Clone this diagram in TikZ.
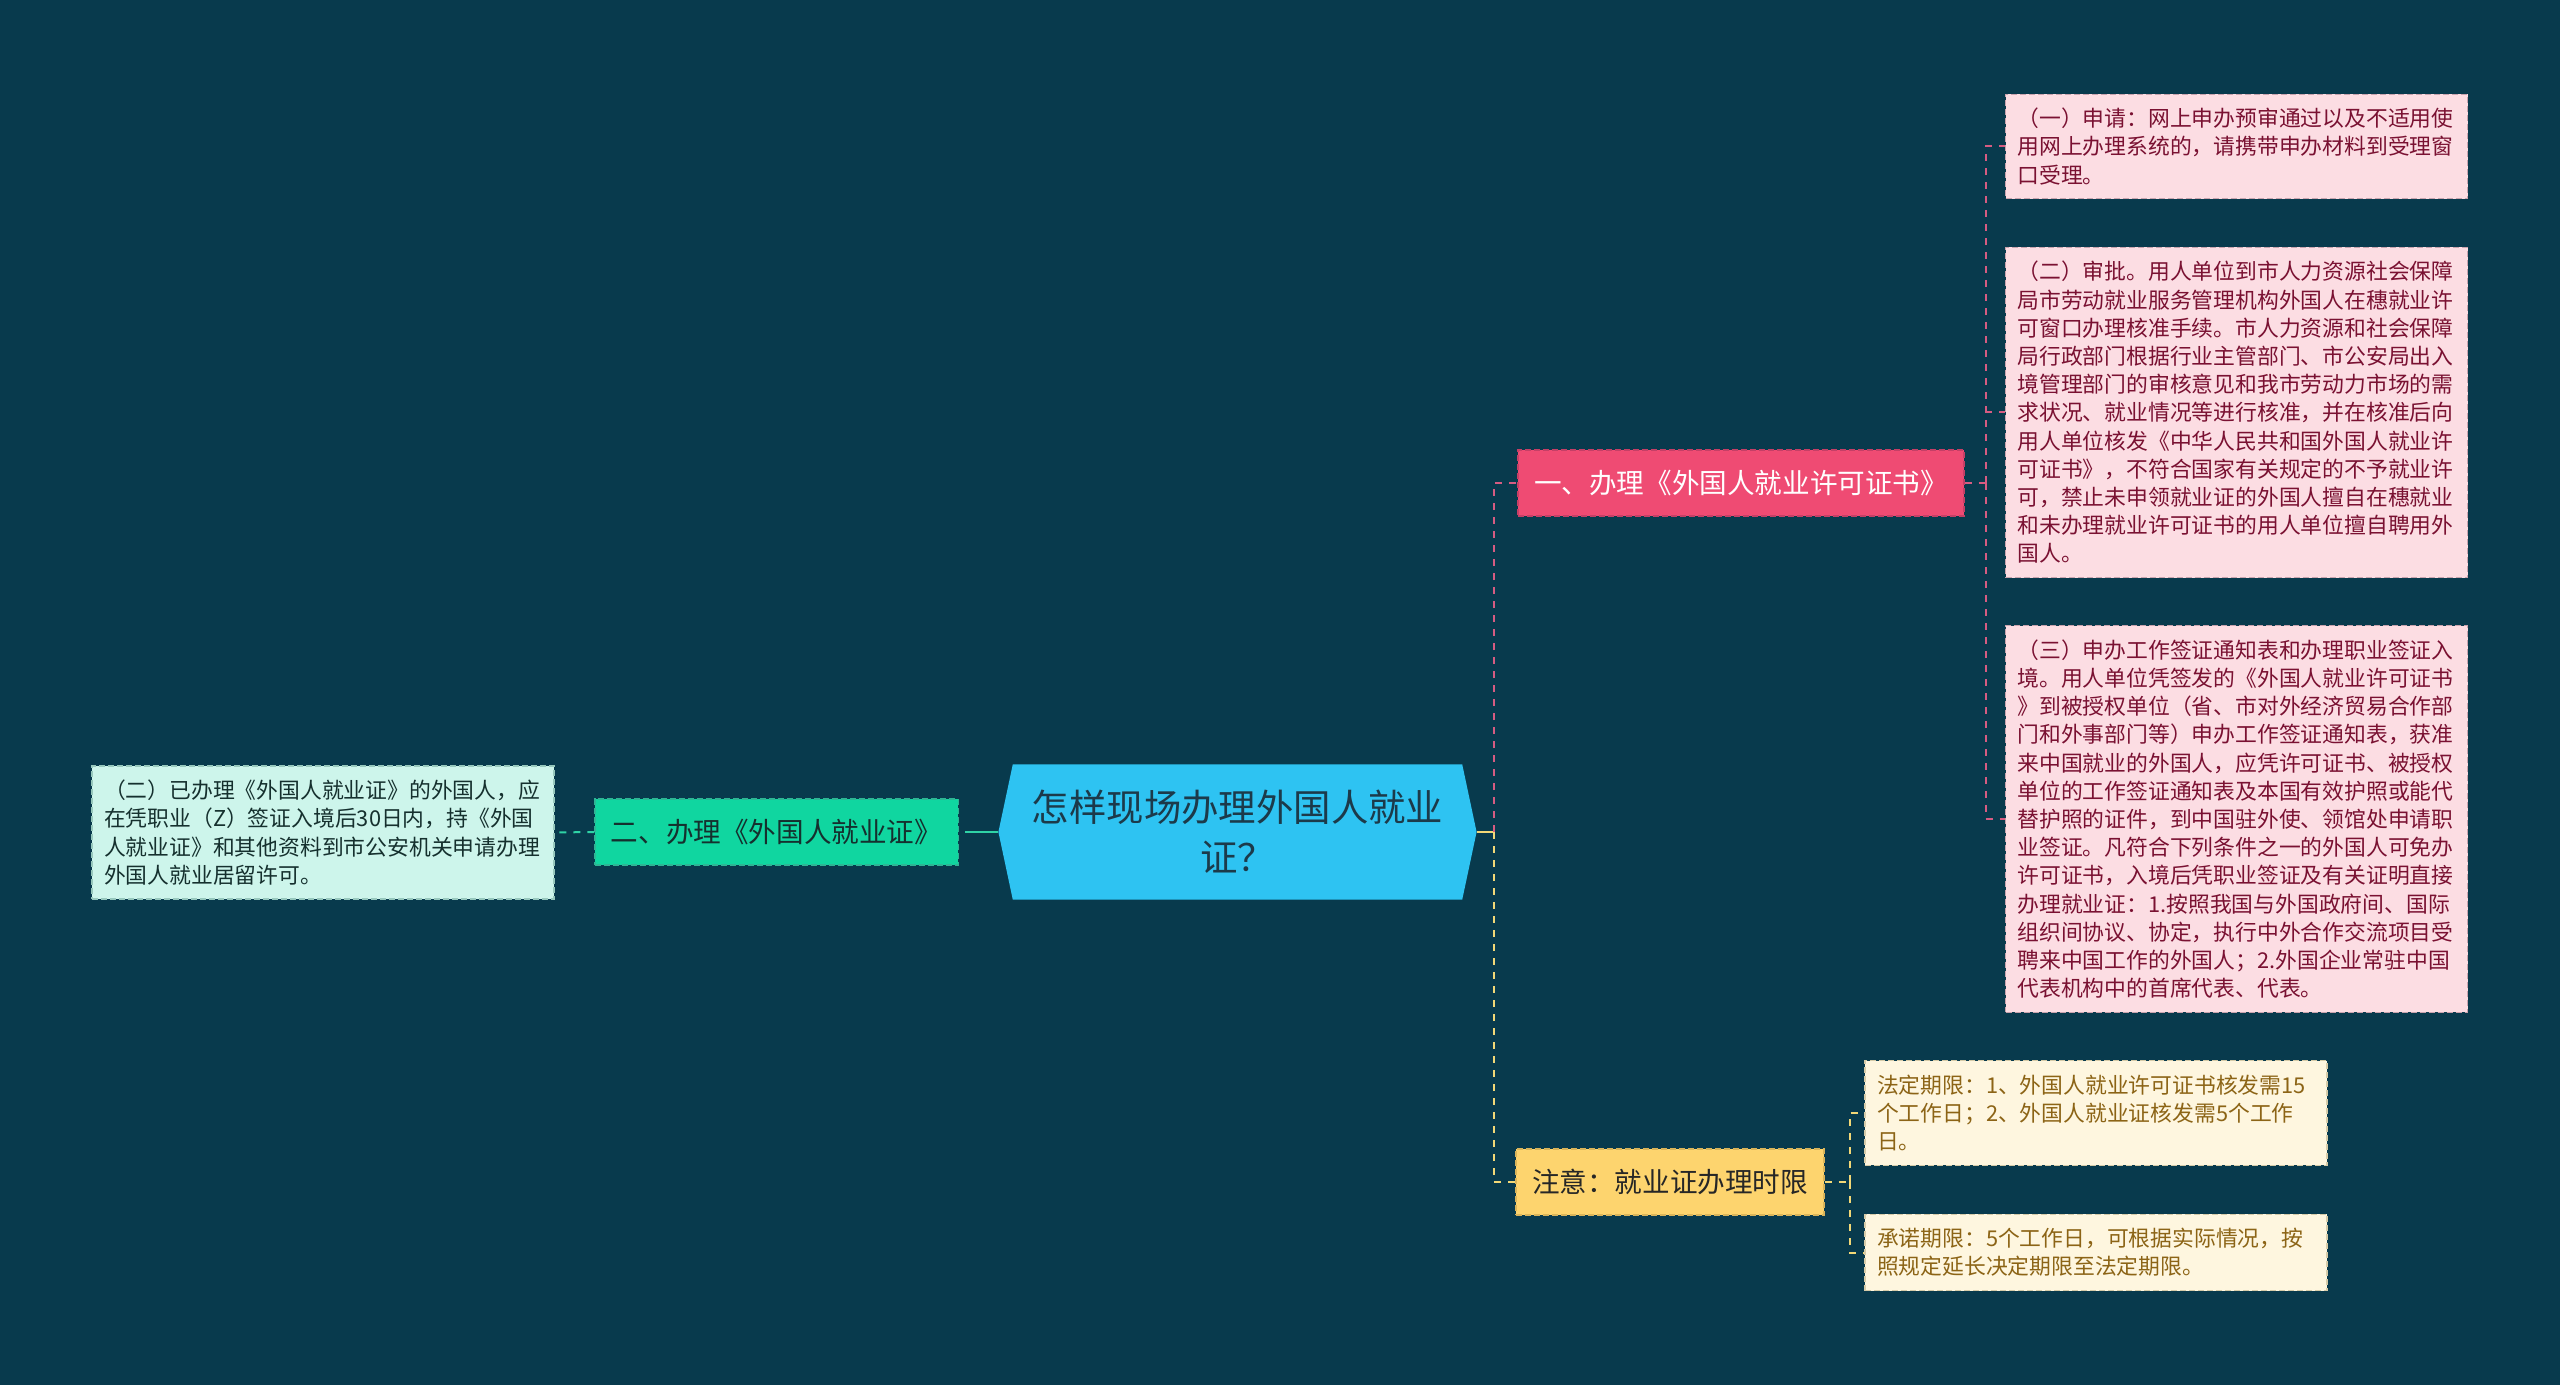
\documentclass[tikz,border=0pt]{standalone}
\usepackage{fontspec}
\setmainfont{Noto Sans CJK SC}
\usepackage{tikz}
\usetikzlibrary{shapes.symbols}

\definecolor{bgcol}{HTML}{083A4D}
\definecolor{rootfill}{HTML}{2EC3F2}
\definecolor{roottext}{HTML}{1C3A4A}
\definecolor{pinkfill}{HTML}{EF4B73}
\definecolor{pinkedge}{HTML}{C53F66}
\definecolor{pinkleaf}{HTML}{FCDDE3}
\definecolor{pinkleafedge}{HTML}{C9A3AE}
\definecolor{pinktext}{HTML}{7A1132}
\definecolor{pinkline}{HTML}{D65C82}
\definecolor{greenfill}{HTML}{10D6A0}
\definecolor{greenedge}{HTML}{2EB594}
\definecolor{greenleaf}{HTML}{CDF5EB}
\definecolor{greenleafedge}{HTML}{97C8BD}
\definecolor{greentext}{HTML}{15302E}
\definecolor{greenline}{HTML}{2FD3A6}
\definecolor{yelfill}{HTML}{FDD46E}
\definecolor{yeledge}{HTML}{D9B45A}
\definecolor{yelleaf}{HTML}{FEF6DF}
\definecolor{yelleafedge}{HTML}{D6CBA8}
\definecolor{yeltext}{HTML}{8C6416}
\definecolor{yelline}{HTML}{F2D877}

\begin{document}
\begin{tikzpicture}[x=0.5pt, y=-0.5pt,
  rootbox/.style={signal, signal to=west and east, signal pointer angle=156,
    fill=rootfill, text=roottext, align=center,
    font=\fontsize{18.7}{25}\selectfont, inner xsep=9.5pt, inner ysep=13pt},
  branchbox/.style={draw, dash pattern=on 3pt off 1.5pt, line width=0.6pt,
    minimum height=33pt, inner xsep=8pt, font=\fontsize{13.8}{16}\selectfont},
  leafbox/.style={draw, dash pattern=on 3pt off 1.5pt, line width=0.6pt,
    text width=219pt, align=left, inner xsep=6pt, inner ysep=7pt,
    font=\fontsize{10.9}{14.1}\selectfont},
  link/.style={line width=1pt, dash pattern=on 3.5pt off 3.5pt}]
  % Background
  \useasboundingbox (0,0) rectangle (2560,1385);
  \fill[bgcol] (0,0) rectangle (2560,1385);
  % Root
  \node[rootbox] (root) at (1237.5,832) {怎样现场办理外国人就业\\证？};
  % Branches
  \node[branchbox, fill=pinkfill, draw=pinkedge, text=white] (b1) at (1741,483) {一、办理《外国人就业许可证书》};
  \node[branchbox, fill=greenfill, draw=greenedge, text=greentext] (b2) at (776.5,832) {二、办理《外国人就业证》};
  \node[branchbox, fill=yelfill, draw=yeledge, text=black!85] (b3) at (1670,1182) {注意：就业证办理时限};
  % Leaves of the first branch
  \node[leafbox, fill=pinkleaf, draw=pinkleafedge, text=pinktext] (l1) at (2236.5,146.5) {（一）申请：网上申办预审通过以及不适用使\\用网上办理系统的，请携带申办材料到受理窗\\口受理。};
  \node[leafbox, fill=pinkleaf, draw=pinkleafedge, text=pinktext] (l2) at (2236.5,412.5) {（二）审批。用人单位到市人力资源社会保障\\局市劳动就业服务管理机构外国人在穗就业许\\可窗口办理核准手续。市人力资源和社会保障\\局行政部门根据行业主管部门、市公安局出入\\境管理部门的审核意见和我市劳动力市场的需\\求状况、就业情况等进行核准，并在核准后向\\用人单位核发《中华人民共和国外国人就业许\\可证书》，不符合国家有关规定的不予就业许\\可，禁止未申领就业证的外国人擅自在穗就业\\和未办理就业许可证书的用人单位擅自聘用外\\国人。};
  \node[leafbox, fill=pinkleaf, draw=pinkleafedge, text=pinktext] (l3) at (2236.5,819) {（三）申办工作签证通知表和办理职业签证入\\境。用人单位凭签发的《外国人就业许可证书\\》到被授权单位（省、市对外经济贸易合作部\\门和外事部门等）申办工作签证通知表，获准\\来中国就业的外国人，应凭许可证书、被授权\\单位的工作签证通知表及本国有效护照或能代\\替护照的证件，到中国驻外使、领馆处申请职\\业签证。凡符合下列条件之一的外国人可免办\\许可证书，入境后凭职业签证及有关证明直接\\办理就业证：1.按照我国与外国政府间、国际\\组织间协议、协定，执行中外合作交流项目受\\聘来中国工作的外国人；2.外国企业常驻中国\\代表机构中的首席代表、代表。};
  % Leaf of the second branch
  \node[leafbox, fill=greenleaf, draw=greenleafedge, text=greentext] (l4) at (323,832.5) {（二）已办理《外国人就业证》的外国人，应\\在凭职业（Z）签证入境后30日内，持《外国\\人就业证》和其他资料到市公安机关申请办理\\外国人就业居留许可。};
  % Leaves of the third branch
  \node[leafbox, fill=yelleaf, draw=yelleafedge, text=yeltext] (l5) at (2096,1113) {法定期限：1、外国人就业许可证书核发需15\\个工作日；2、外国人就业证核发需5个工作\\日。};
  \node[leafbox, fill=yelleaf, draw=yelleafedge, text=yeltext] (l6) at (2096,1252.5) {承诺期限：5个工作日，可根据实际情况，按\\照规定延长决定期限至法定期限。};
  % Links from the root
  \coordinate (rt) at ([xshift=8.5pt]root.east);
  \coordinate (lt) at ([xshift=-13pt]root.west);
  \draw[yelline, line width=1pt] (root.east) -- (rt);
  \draw[link, pinkline] (rt) |- (b1.west);
  \draw[link, yelline] (rt) |- (b3.west);
  \draw[greenline, line width=1pt] (root.west) -- (lt);
  \draw[link, greenline] (lt) -- (b2.east);
  % Links to the leaves
  \coordinate (t1) at ([xshift=10.5pt]b1.east);
  \draw[link, pinkline] (b1.east) -- (t1);
  \foreach \n in {l1,l2,l3} {
    \draw[link, pinkline] (t1) |- (\n.west);
  }
  \coordinate (t3) at ([xshift=12.5pt]b3.east);
  \draw[link, yelline] (b3.east) -- (t3);
  \foreach \n in {l5,l6} {
    \draw[link, yelline] (t3) |- (\n.west);
  }
  \draw[link, greenline] (b2.west) -- (l4.east);
\end{tikzpicture}
\end{document}
